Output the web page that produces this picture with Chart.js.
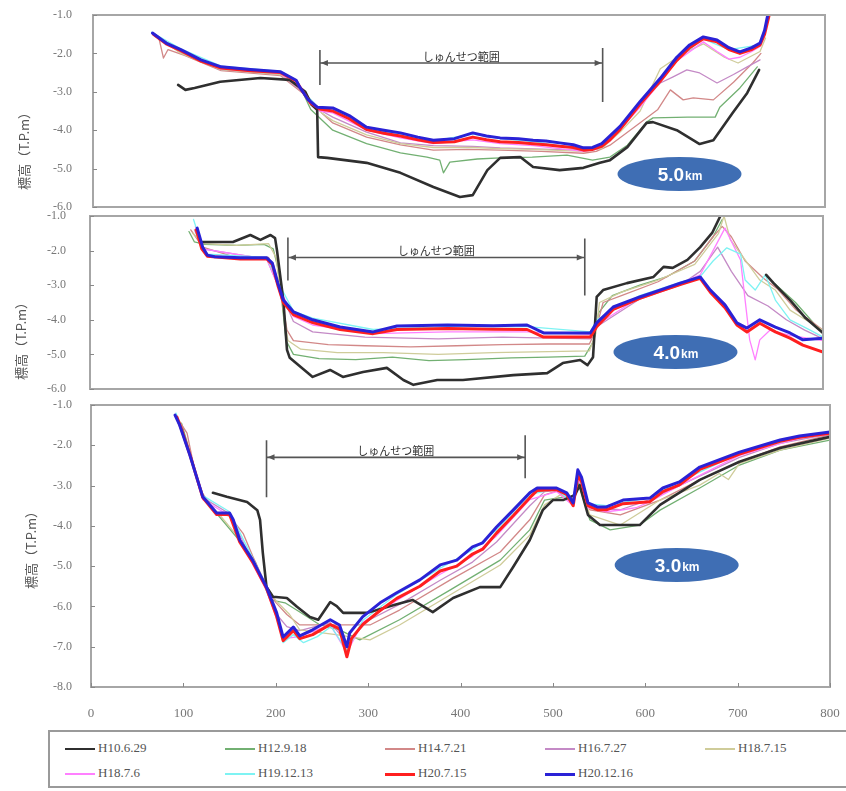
<!DOCTYPE html>
<html>
<head>
<meta charset="utf-8">
<script src="https://cdn.jsdelivr.net/npm/chart.js@4.4.1/dist/chart.umd.min.js"></script>
<style>
  html, body { margin: 0; padding: 0; background: #fff; width: 846px; height: 791px; overflow: hidden; }
  body { position: relative; }
  canvas { position: absolute; left: 0; }
  #legend { position: absolute; left: 48px; top: 730px; width: 820px; height: 58px;
            border: 2px solid #9a9a9a; box-sizing: border-box; background: #fff; }
  .item { position: absolute; height: 14px; line-height: 14px; white-space: nowrap;
          font-family: "Liberation Serif", "DejaVu Serif", serif; font-size: 13px; color: #555; }
  .sw { display: inline-block; width: 30px; vertical-align: middle; margin-right: 3px; }
</style>
</head>
<body>
<canvas id="c50" width="846" height="215" style="top:0px"></canvas>
<canvas id="c40" width="846" height="195" style="top:205px"></canvas>
<canvas id="c30" width="846" height="338" style="top:392px"></canvas>
<div id="legend"></div>

<script>
// Survey dates (legend order)
const seriesNames = ['H10.6.29','H12.9.18','H14.7.21','H16.7.27','H18.7.15','H18.7.6','H19.12.13','H20.7.15','H20.12.16'];
const seriesColors = ['#2f2f2f','#72b072','#d28888','#c48ac6','#cfcc9a','#ff80ff','#7ef3f3','#ff1f1f','#2a22d6'];
const seriesWidths = [2.6, 1.3, 1.3, 1.3, 1.3, 1.3, 1.3, 3, 3];
const seriesOrder  = [2, 8, 7, 6, 5, 4, 3, 1, 0];

// Tick values
const xTicks = [0, 100, 200, 300, 400, 500, 600, 700, 800];

// Dredging range (distance, m) for each section: 5.0km, 4.0km, 3.0km
const dredgeFrom = [248, 216, 190];
const dredgeTo   = [557, 540, 470];
const sectionNames = ['5.0', '4.0', '3.0'];

// ---------- 5.0km section: [distance, elevation] ----------
const s50_H10_6_29 = [[93,-2.82],[101,-2.95],[111,-2.9],[139,-2.74],[183,-2.64],[215,-2.69],[232,-3.0],[239,-3.34],[245,-3.47],[246,-4.7],[256,-4.72],[299,-4.85],[336,-5.11],[372,-5.48],[401,-5.74],[415,-5.69],[431,-5.04],[445,-4.72],[467,-4.7],[481,-4.96],[510,-5.04],[536,-4.98],[554,-4.85],[565,-4.78],[584,-4.44],[605,-3.81],[612,-3.79],[638,-4.0],[663,-4.36],[678,-4.26],[699,-3.55],[715,-3.03],[728,-2.43]];
const s50_H12_9_18 = [[69,-1.52],[96,-1.95],[140,-2.4],[205,-2.52],[228,-2.95],[238,-3.46],[262,-4.0],[299,-4.35],[336,-4.59],[365,-4.7],[379,-4.78],[383,-5.11],[390,-4.83],[420,-4.75],[445,-4.72],[480,-4.7],[518,-4.65],[546,-4.78],[565,-4.7],[584,-4.39],[605,-3.79],[612,-3.68],[650,-3.66],[680,-3.66],[685,-3.4],[707,-2.9],[726,-2.35]];
const s50_H14_7_21 = [[72,-1.6],[77,-2.12],[82,-1.9],[100,-2.05],[140,-2.45],[205,-2.58],[230,-3.05],[250,-3.55],[262,-3.81],[299,-4.18],[336,-4.38],[372,-4.52],[410,-4.5],[445,-4.52],[490,-4.55],[536,-4.6],[550,-4.55],[565,-4.39],[587,-4.0],[617,-3.47],[631,-2.95],[645,-3.21],[656,-3.16],[678,-3.21],[700,-2.75],[721,-2.25],[730,-2.0]];
const s50_H16_7_27 = [[68,-1.55],[96,-1.98],[140,-2.42],[205,-2.55],[230,-3.02],[250,-3.5],[262,-3.66],[299,-4.05],[336,-4.33],[372,-4.4],[415,-4.42],[445,-4.46],[500,-4.5],[543,-4.52],[565,-4.26],[592,-3.47],[620,-2.77],[634,-2.61],[649,-2.43],[663,-2.51],[682,-2.77],[700,-2.55],[715,-2.35],[729,-2.17]];
const s50_H18_7_15 = [[70,-1.55],[96,-2.0],[140,-2.42],[205,-2.55],[230,-3.0],[250,-3.55],[262,-3.75],[299,-4.12],[336,-4.35],[372,-4.45],[415,-4.45],[445,-4.48],[481,-4.5],[536,-4.55],[556,-4.48],[576,-4.05],[598,-3.5],[620,-2.4],[645,-2.0],[667,-1.75],[690,-2.1],[705,-2.25],[729,-1.95],[735,-1.6]];
const s50_H18_7_6  = [[67,-1.5],[96,-1.95],[140,-2.4],[205,-2.52],[228,-2.95],[248,-3.5],[262,-3.55],[299,-4.0],[336,-4.2],[372,-4.35],[415,-4.25],[445,-4.35],[481,-4.4],[536,-4.55],[550,-4.5],[565,-4.28],[598,-3.4],[638,-2.2],[667,-1.7],[682,-1.95],[695,-2.15],[707,-2.1],[720,-1.95],[729,-1.82],[738,-1.1]];
const s50_H19_12_13 = [[64,-1.45],[96,-1.88],[140,-2.33],[205,-2.47],[226,-2.9],[245,-3.38],[262,-3.45],[299,-3.95],[336,-4.1],[372,-4.28],[415,-4.1],[445,-4.22],[481,-4.3],[536,-4.5],[546,-4.5],[565,-4.2],[598,-3.3],[638,-2.15],[667,-1.62],[695,-1.9],[729,-1.78],[738,-1.0]];
const s50_H20_7_15 = [[66,-1.5],[80,-1.75],[96,-1.93],[118,-2.2],[140,-2.38],[172,-2.45],[205,-2.5],[222,-2.72],[228,-2.95],[238,-3.3],[248,-3.45],[262,-3.5],[280,-3.7],[299,-3.98],[318,-4.08],[336,-4.15],[355,-4.25],[372,-4.32],[395,-4.3],[415,-4.18],[430,-4.25],[445,-4.3],[465,-4.32],[481,-4.35],[495,-4.38],[510,-4.42],[525,-4.45],[536,-4.52],[546,-4.5],[556,-4.42],[565,-4.25],[576,-3.98],[598,-3.32],[620,-2.72],[638,-2.18],[652,-1.85],[667,-1.62],[682,-1.7],[695,-1.9],[707,-2.0],[720,-1.9],[729,-1.78],[734,-1.5],[738,-1.1],[740,-0.9]];
const s50_H20_12_16 = [[65,-1.47],[80,-1.73],[96,-1.9],[118,-2.17],[140,-2.35],[172,-2.42],[205,-2.48],[222,-2.7],[226,-2.88],[235,-3.2],[245,-3.4],[262,-3.42],[280,-3.62],[299,-3.92],[318,-4.0],[336,-4.07],[355,-4.18],[372,-4.26],[395,-4.22],[415,-4.07],[430,-4.15],[445,-4.2],[465,-4.22],[481,-4.26],[495,-4.28],[510,-4.33],[525,-4.38],[536,-4.46],[546,-4.45],[556,-4.35],[565,-4.15],[576,-3.9],[598,-3.25],[620,-2.65],[638,-2.1],[652,-1.78],[667,-1.57],[682,-1.65],[695,-1.85],[707,-1.96],[720,-1.85],[729,-1.73],[734,-1.4],[737,-1.05],[739,-0.9]];

// ---------- 4.0km section ----------
const s40_H10_6_29 = [[123,-1.75],[156,-1.75],[175,-1.55],[186,-1.69],[197,-1.55],[202,-1.64],[204,-1.98],[211,-3.43],[215,-4.87],[218,-5.1],[243,-5.65],[262,-5.45],[276,-5.65],[298,-5.51],[324,-5.39],[342,-5.74],[353,-5.88],[379,-5.74],[407,-5.74],[462,-5.6],[499,-5.54],[516,-5.25],[535,-5.16],[543,-5.31],[549,-5.08],[553,-3.34],[560,-3.14],[586,-2.94],[615,-2.76],[626,-2.47],[636,-2.5],[652,-2.27],[666,-1.9],[679,-1.49],[688,-1.0],[690,null],[738,-2.7],[746,-2.94],[764,-3.43],[781,-3.95],[800,-4.38]];
const s40_H12_9_18 = [[108,-1.45],[114,-1.75],[125,-1.82],[160,-1.85],[190,-1.82],[200,-1.95],[205,-2.5],[210,-3.6],[214,-4.6],[222,-5.0],[250,-5.12],[290,-5.15],[330,-5.08],[370,-5.18],[410,-5.15],[460,-5.1],[500,-5.08],[540,-5.05],[550,-4.6],[555,-3.8],[570,-3.3],[600,-3.0],[630,-2.75],[660,-2.3],[680,-1.6],[690,-1.1],[700,null],[745,-2.9],[770,-3.5],[800,-4.4]];
const s40_H14_7_21 = [[110,-1.4],[123,-1.9],[160,-2.2],[195,-2.2],[203,-2.8],[210,-3.5],[215,-4.3],[222,-4.6],[260,-4.72],[300,-4.75],[350,-4.78],[400,-4.75],[450,-4.72],[500,-4.7],[545,-4.7],[552,-4.3],[560,-3.5],[580,-3.3],[620,-2.9],[660,-2.3],[680,-1.6],[690,-1.3],[700,-1.6],[715,-2.3],[735,-2.8],[750,-3.1],[770,-3.7],[800,-4.3]];
const s40_H16_7_27 = [[114,-1.4],[123,-1.95],[193,-2.25],[205,-3.0],[222,-4.05],[243,-4.35],[300,-4.5],[380,-4.55],[450,-4.5],[546,-4.55],[553,-4.2],[600,-3.4],[644,-3.0],[666,-2.6],[685,-1.9],[700,-2.6],[718,-3.3],[740,-3.6],[760,-4.0],[780,-4.3],[800,-4.55]];
const s40_H18_7_15 = [[112,-1.5],[125,-1.8],[160,-1.85],[195,-1.8],[203,-2.2],[210,-3.6],[216,-4.6],[230,-4.85],[270,-4.95],[320,-4.95],[380,-5.0],[440,-4.95],[500,-4.92],[545,-4.9],[552,-4.4],[556,-3.5],[580,-3.2],[620,-2.85],[660,-2.4],[686,-1.5],[692,-1.0],[699,-1.69],[715,-2.27],[731,-2.85],[748,-3.14],[764,-3.72],[781,-4.0],[800,-4.3]];
const s40_H18_7_6  = [[115,-1.3],[123,-1.95],[193,-2.25],[205,-3.0],[222,-3.9],[243,-4.15],[309,-4.4],[390,-4.35],[477,-4.35],[546,-4.42],[553,-4.15],[600,-3.35],[644,-2.95],[666,-2.7],[680,-2.0],[693,-1.35],[710,-2.27],[715,-3.43],[720,-4.58],[726,-5.16],[731,-4.58],[742,-4.3],[764,-4.45],[800,-4.6]];
const s40_H19_12_13 = [[113,-1.1],[122,-1.85],[128,-2.1],[193,-2.2],[205,-2.9],[222,-3.75],[243,-3.95],[309,-4.28],[390,-4.2],[477,-4.2],[546,-4.35],[553,-4.0],[600,-3.3],[644,-2.92],[666,-2.75],[680,-2.3],[695,-1.92],[710,-2.1],[715,-2.85],[726,-3.14],[737,-2.7],[748,-3.43],[764,-4.0],[786,-4.3],[800,-4.5]];
const s40_H20_7_15 = [[116,-1.4],[122,-1.95],[128,-2.16],[164,-2.24],[193,-2.24],[199,-2.4],[205,-3.0],[211,-3.5],[222,-3.85],[243,-4.08],[273,-4.28],[309,-4.4],[335,-4.28],[390,-4.25],[440,-4.27],[477,-4.28],[495,-4.5],[546,-4.5],[553,-4.2],[571,-3.7],[600,-3.38],[622,-3.18],[644,-2.98],[666,-2.8],[677,-3.2],[693,-3.65],[706,-4.15],[717,-4.35],[731,-4.1],[748,-4.35],[764,-4.53],[778,-4.73],[800,-4.93]];
const s40_H20_12_16 = [[117,-1.35],[123,-1.9],[128,-2.13],[136,-2.18],[164,-2.21],[193,-2.21],[199,-2.36],[205,-2.94],[211,-3.43],[222,-3.77],[243,-4.0],[273,-4.21],[309,-4.35],[335,-4.18],[390,-4.15],[440,-4.17],[477,-4.15],[495,-4.38],[546,-4.38],[553,-4.09],[571,-3.63],[600,-3.34],[622,-3.14],[644,-2.94],[666,-2.76],[677,-3.14],[693,-3.57],[706,-4.09],[717,-4.24],[731,-4.0],[748,-4.21],[764,-4.38],[778,-4.58],[800,-4.53]];

// ---------- 3.0km section ----------
const s30_H10_6_29 = [[132,-3.18],[147,-3.28],[169,-3.41],[180,-3.61],[183,-3.85],[186,-4.67],[190,-5.52],[197,-5.76],[212,-5.79],[223,-6.01],[237,-6.26],[246,-6.33],[259,-5.89],[266,-5.99],[273,-6.16],[299,-6.16],[329,-5.96],[348,-5.84],[370,-6.14],[392,-5.79],[421,-5.52],[443,-5.52],[457,-5.02],[475,-4.35],[489,-3.61],[500,-3.36],[511,-3.36],[524,-3.23],[529,-2.99],[538,-3.73],[551,-3.98],[594,-3.98],[616,-3.48],[659,-2.86],[702,-2.41],[746,-2.07],[800,-1.79]];
const s30_H12_9_18 = [[98,-1.45],[110,-2.4],[121,-3.3],[140,-3.8],[160,-4.35],[178,-4.9],[188,-5.5],[194,-5.84],[210,-5.91],[226,-6.14],[248,-6.46],[269,-6.58],[291,-6.83],[334,-6.33],[389,-5.59],[443,-4.85],[475,-4.1],[491,-3.36],[513,-3.28],[522,-3.45],[527,-2.9],[540,-3.85],[562,-4.1],[594,-3.98],[616,-3.61],[659,-3.06],[702,-2.49],[746,-2.12],[800,-1.87]];
const s30_H14_7_21 = [[97,-1.45],[104,-1.7],[112,-2.6],[121,-3.2],[136,-3.7],[150,-3.75],[165,-4.2],[175,-4.75],[190,-5.5],[200,-5.9],[212,-6.2],[226,-6.46],[269,-6.46],[302,-6.46],[334,-6.09],[389,-5.34],[443,-4.65],[475,-3.85],[491,-3.23],[508,-3.11],[522,-3.4],[527,-2.85],[540,-3.6],[573,-3.73],[616,-3.36],[659,-2.86],[702,-2.41],[746,-2.04],[800,-1.74]];
const s30_H16_7_27 = [[95,-1.4],[108,-2.3],[121,-3.3],[150,-3.7],[175,-4.9],[190,-5.55],[201,-6.2],[212,-6.5],[226,-6.6],[259,-6.4],[277,-6.9],[300,-6.35],[334,-5.95],[378,-5.35],[413,-4.9],[439,-4.4],[475,-3.5],[491,-3.15],[504,-3.12],[522,-3.45],[527,-2.8],[540,-3.55],[573,-3.6],[605,-3.35],[637,-3.0],[702,-2.3],[746,-1.95],[800,-1.72]];
const s30_H18_7_15 = [[96,-1.4],[110,-2.4],[121,-3.3],[140,-3.75],[160,-4.3],[175,-4.9],[190,-5.5],[200,-5.85],[215,-6.2],[226,-6.58],[269,-6.71],[302,-6.83],[334,-6.46],[389,-5.71],[443,-4.97],[475,-4.23],[491,-3.48],[508,-3.23],[522,-3.4],[527,-2.8],[540,-3.73],[573,-3.98],[616,-3.36],[659,-2.99],[680,-2.7],[690,-2.85],[702,-2.45],[746,-2.12],[800,-1.82]];
const s30_H18_7_6  = [[94,-1.35],[108,-2.35],[121,-3.35],[150,-3.75],[175,-4.95],[190,-5.6],[201,-6.3],[208,-6.8],[226,-6.75],[259,-6.45],[277,-7.15],[294,-6.4],[331,-5.85],[378,-5.2],[413,-4.75],[439,-4.25],[475,-3.35],[504,-3.15],[522,-3.5],[527,-2.8],[538,-3.55],[558,-3.65],[576,-3.6],[590,-3.55],[605,-3.4],[637,-3.0],[702,-2.25],[767,-1.82],[800,-1.72]];
const s30_H19_12_13 = [[92,-1.2],[107,-2.2],[121,-3.25],[150,-3.65],[175,-4.8],[190,-5.5],[201,-6.2],[208,-6.9],[219,-6.7],[230,-6.9],[245,-6.75],[260,-6.5],[277,-7.1],[294,-6.35],[331,-5.7],[378,-5.05],[413,-4.6],[439,-4.1],[475,-3.22],[504,-3.08],[522,-3.45],[527,-2.7],[538,-3.45],[558,-3.5],[605,-3.3],[637,-2.9],[702,-2.2],[767,-1.8],[800,-1.7]];
const s30_H20_7_15 = [[93,-1.3],[98,-1.6],[108,-2.3],[121,-3.3],[136,-3.72],[150,-3.72],[161,-4.4],[175,-4.9],[190,-5.55],[201,-6.25],[208,-6.85],[219,-6.6],[226,-6.8],[240,-6.7],[259,-6.45],[269,-6.55],[277,-7.25],[282,-6.8],[294,-6.45],[313,-6.1],[331,-5.8],[356,-5.5],[378,-5.12],[396,-5.0],[413,-4.7],[424,-4.58],[439,-4.18],[457,-3.75],[475,-3.3],[483,-3.12],[504,-3.1],[515,-3.22],[522,-3.5],[527,-2.75],[531,-2.9],[538,-3.5],[548,-3.6],[558,-3.6],[576,-3.45],[605,-3.4],[619,-3.15],[637,-2.98],[659,-2.6],[702,-2.22],[746,-1.9],[767,-1.8],[800,-1.7]];
const s30_H20_12_16 = [[91,-1.25],[96,-1.5],[107,-2.24],[121,-3.28],[136,-3.68],[150,-3.68],[154,-3.85],[161,-4.35],[175,-4.85],[190,-5.52],[201,-6.16],[208,-6.76],[219,-6.51],[226,-6.73],[240,-6.58],[259,-6.33],[269,-6.46],[277,-7.0],[280,-6.66],[294,-6.26],[313,-5.91],[331,-5.66],[356,-5.34],[378,-4.97],[396,-4.85],[413,-4.52],[424,-4.42],[439,-4.03],[457,-3.61],[475,-3.18],[483,-3.06],[504,-3.06],[515,-3.18],[522,-3.43],[527,-2.61],[531,-2.79],[538,-3.43],[548,-3.53],[558,-3.53],[576,-3.36],[605,-3.31],[619,-3.06],[637,-2.91],[659,-2.54],[702,-2.17],[746,-1.87],[767,-1.77],[800,-1.67]];

// Frame, inward ticks, axis title, dredging range and section badge
const sectionDecor = {
  id: 'sectionDecor',
  afterDraw(chart, args, o) {
    const { ctx, chartArea: a, scales } = chart;
    const xs = scales.x, ys = scales.y;
    ctx.save();
    // plot frame
    ctx.strokeStyle = '#a6a6a6';
    ctx.lineWidth = 2;
    ctx.strokeRect(a.left, a.top, a.right - a.left, a.bottom - a.top);
    // inward tick marks
    ctx.strokeStyle = '#888';
    ctx.lineWidth = 1;
    ctx.beginPath();
    ys.ticks.forEach(t => {
      const y = Math.round(ys.getPixelForValue(t.value)) + 0.5;
      ctx.moveTo(a.left, y); ctx.lineTo(a.left + 4, y);
    });
    if (o.showX) {
      xs.ticks.forEach(t => {
        const x = Math.round(xs.getPixelForValue(t.value)) + 0.5;
        ctx.moveTo(x, a.bottom); ctx.lineTo(x, a.bottom - 4);
      });
    }
    ctx.stroke();
    // y axis title
    ctx.save();
    ctx.translate(o.titleX, o.titleY);
    ctx.rotate(-Math.PI / 2);
    ctx.fillStyle = '#555';
    ctx.font = '13px "Noto Sans CJK JP", sans-serif';
    ctx.textAlign = 'center';
    ctx.textBaseline = 'middle';
    ctx.fillText('標高（T.P.m）', 0, 0);
    ctx.restore();
    // dredging range dimension line
    const x1 = xs.getPixelForValue(o.from), x2 = xs.getPixelForValue(o.to);
    const yl = ys.getPixelForValue(o.level);
    ctx.strokeStyle = '#555';
    ctx.fillStyle = '#555';
    ctx.lineWidth = 1.6;
    ctx.beginPath();
    ctx.moveTo(x1, yl); ctx.lineTo(x2, yl);
    ctx.moveTo(x1, yl - o.leftTick[0]); ctx.lineTo(x1, yl + o.leftTick[1]);
    ctx.moveTo(x2, yl - o.rightTick[0]); ctx.lineTo(x2, yl + o.rightTick[1]);
    ctx.stroke();
    [[x1, 1], [x2, -1]].forEach(([x, d]) => {
      ctx.beginPath();
      ctx.moveTo(x + d, yl);
      ctx.lineTo(x + d * 8, yl - 3);
      ctx.lineTo(x + d * 8, yl + 3);
      ctx.closePath();
      ctx.fill();
    });
    ctx.fillStyle = '#333';
    ctx.font = '11px "Noto Sans CJK JP", sans-serif';
    ctx.textAlign = 'center';
    ctx.textBaseline = 'bottom';
    ctx.fillText('しゅんせつ範囲', (x1 + x2) / 2, yl - 1);
    // section badge
    const bx = xs.getPixelForValue(o.badgeX), by = ys.getPixelForValue(o.badgeY);
    ctx.fillStyle = '#3f6eb4';
    ctx.beginPath();
    ctx.ellipse(bx, by, 62, 17, 0, 0, Math.PI * 2);
    ctx.fill();
    ctx.fillStyle = '#fff';
    ctx.textBaseline = 'alphabetic';
    ctx.textAlign = 'left';
    const big = 'bold 19px "Liberation Sans", Arial, sans-serif';
    const small = 'bold 12px "Liberation Sans", Arial, sans-serif';
    ctx.font = big; const w1 = ctx.measureText(o.section).width;
    ctx.font = small; const w2 = ctx.measureText('km').width;
    const sx = bx - (w1 + w2) / 2;
    ctx.font = big; ctx.fillText(o.section, sx, by + 7);
    ctx.font = small; ctx.fillText('km', sx + w1 + 1, by + 6);
    ctx.restore();
  }
};

function buildDatasets(series) {
  return series.map((pts, i) => ({
    label: seriesNames[i],
    data: pts,
    borderColor: seriesColors[i],
    backgroundColor: seriesColors[i],
    borderWidth: seriesWidths[i],
    order: seriesOrder[i],
    pointRadius: 0,
    pointHoverRadius: 0,
    tension: 0,
    borderJoinStyle: 'round',
    borderCapStyle: 'round',
    spanGaps: false,
    fill: false
  }));
}

const tickFont = { family: '"Liberation Serif", "DejaVu Serif", serif', size: 12 };

// Label offsets come from invisible tick marks (tickLength), so no extra layout padding is added
function makePanel(id, series, p) {
  return new Chart(document.getElementById(id), {
    type: 'line',
    data: { datasets: buildDatasets(series) },
    options: {
      responsive: false,
      animation: false,
      events: [],
      layout: { autoPadding: false, padding: { top: p.padTop, right: p.padRight, bottom: p.padBottom, left: 0 } },
      plugins: {
        legend: { display: false },
        tooltip: { enabled: false },
        sectionDecor: p.decor
      },
      scales: {
        x: {
          type: 'linear', min: 0, max: 800,
          display: p.showX,
          grid: { display: true, drawOnChartArea: false, drawTicks: true, tickLength: 19, color: 'rgba(0,0,0,0)' },
          border: { display: false },
          afterBuildTicks: s => { s.ticks = xTicks.map(v => ({ value: v })); },
          ticks: { padding: 0, color: '#777', font: { ...tickFont, size: 13 }, maxRotation: 0, autoSkip: false },
          afterFit: s => { if (p.showX) s.height = p.xHeight; }
        },
        y: {
          min: p.yMin, max: -1,
          grid: { display: true, drawOnChartArea: false, drawTicks: true, tickLength: p.tickPad, color: 'rgba(0,0,0,0)' },
          border: { display: false },
          ticks: { stepSize: 1, padding: 0, color: '#777', font: tickFont, callback: v => v.toFixed(1) },
          afterFit: s => { s.width = p.left; }
        }
      }
    },
    plugins: [sectionDecor]
  });
}

makePanel('c50',
  [s50_H10_6_29, s50_H12_9_18, s50_H14_7_21, s50_H16_7_27, s50_H18_7_15, s50_H18_7_6, s50_H19_12_13, s50_H20_7_15, s50_H20_12_16],
  { left: 93, padTop: 15, padRight: 21, padBottom: 8, yMin: -6, showX: false, tickPad: 21,
    decor: { showX: false, titleX: 24, titleY: 148, from: dredgeFrom[0], to: dredgeTo[0], level: -2.25,
             leftTick: [13, 22], rightTick: [15, 39], badgeX: 641, badgeY: -5.14, section: sectionNames[0] } });

makePanel('c40',
  [s40_H10_6_29, s40_H12_9_18, s40_H14_7_21, s40_H16_7_27, s40_H18_7_15, s40_H18_7_6, s40_H19_12_13, s40_H20_7_15, s40_H20_12_16],
  { left: 90, padTop: 11, padRight: 23, padBottom: 11, yMin: -6, showX: false, tickPad: 24,
    decor: { showX: false, titleX: 21, titleY: 133, from: dredgeFrom[1], to: dredgeTo[1], level: -2.2,
             leftTick: [20, 23], rightTick: [19, 38], badgeX: 639, badgeY: -4.93, section: sectionNames[1] } });

makePanel('c30',
  [s30_H10_6_29, s30_H12_9_18, s30_H14_7_21, s30_H16_7_27, s30_H18_7_15, s30_H18_7_6, s30_H19_12_13, s30_H20_7_15, s30_H20_12_16],
  { left: 91, padTop: 13, padRight: 16, padBottom: 0, yMin: -8, showX: true, xHeight: 43, tickPad: 19,
    decor: { showX: true, titleX: 31, titleY: 155, from: dredgeFrom[2], to: dredgeTo[2], level: -2.3,
             leftTick: [17, 40], rightTick: [22, 21], badgeX: 634, badgeY: -4.97, section: sectionNames[2] } });

// Legend: 5 columns x 2 rows
const legendCols = [15, 175, 335, 495, 655];
const legendRows = [9, 34];
const legend = document.getElementById('legend');
seriesNames.forEach((name, i) => {
  const item = document.createElement('div');
  item.className = 'item';
  item.style.left = legendCols[i % 5] + 'px';
  item.style.top = legendRows[Math.floor(i / 5)] + 'px';
  const sw = document.createElement('span');
  sw.className = 'sw';
  sw.style.borderTop = Math.max(2, seriesWidths[i]) + 'px solid ' + seriesColors[i];
  item.appendChild(sw);
  item.appendChild(document.createTextNode(name));
  legend.appendChild(item);
});
</script>
</body>
</html>
